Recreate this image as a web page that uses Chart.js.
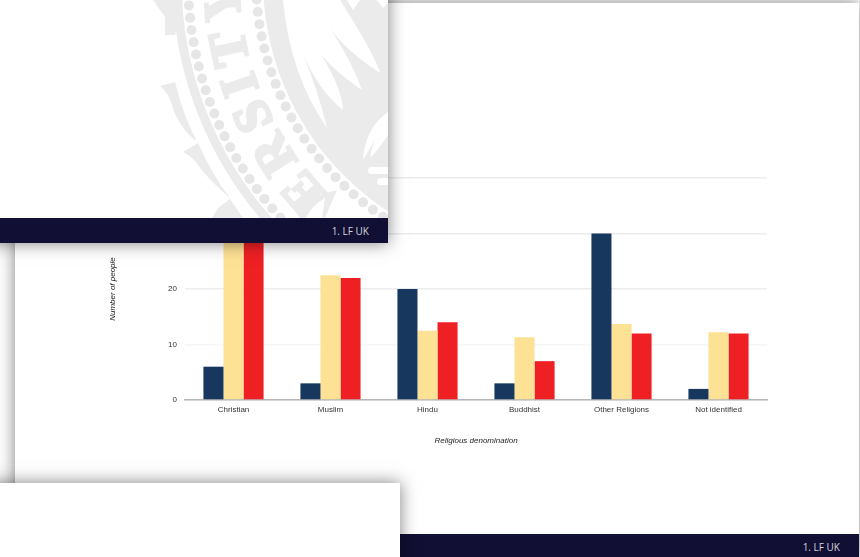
<!DOCTYPE html>
<html>
<head>
<meta charset="utf-8">
<title>Religious denomination</title>
<script src="https://cdn.jsdelivr.net/npm/chart.js@4"></script>
<style>
    html, body { margin: 0; padding: 0; background: #fff; overflow: hidden; }
    #page { position: relative; width: 860px; height: 557px; overflow: hidden; background: #fff; }
    .slide { position: absolute; background: #fff; box-shadow: 0 0 16px rgba(0, 0, 0, 0.5); overflow: hidden; }
    #mainSlide { left: 15px; top: 3px; width: 844px; height: 554px; }
    #topSlide { left: -30px; top: -30px; width: 418px; height: 273px; }
    #bottomSlide { left: -30px; top: 483px; width: 430px; height: 120px; }
    .footer {
        position: absolute; left: 0; right: 0; background: #110f33; color: #d5d5dc;
        font: 10px "Open Sans", sans-serif; text-align: right; box-sizing: border-box;
    }
    #mainSlide .footer { top: 531px; height: 23px; line-height: 27px; padding-right: 19px; }
    #topSlide .footer { top: 248px; height: 25px; line-height: 26px; padding-right: 19px; }
    #crest { position: absolute; left: 30px; top: 30px; }
    #chartCanvas { position: absolute; left: 0; top: 0; filter: blur(0.45px); }
</style>
</head>
<body>
<div id="page">
    <div class="slide" id="mainSlide">
        <canvas id="chartCanvas" width="844" height="531"></canvas>
        <div class="footer">1. LF UK</div>
    </div>
    <div class="slide" id="topSlide">
        <svg id="crest" width="388" height="218" viewBox="0 0 388 218" xmlns="http://www.w3.org/2000/svg">
            <defs>
                <path id="letterArc" d="M327,193 A302,302 0 0 1 243,-72" fill="none"/>
            </defs>
            <g fill="#ebebeb">
                <circle cx="540" cy="-20" r="277"/>
                <circle cx="540" cy="-20" r="363" fill="none" stroke="#ebebeb" stroke-width="9"/>
                <!-- leaves outside the ring -->
                <path d="M153,0 L165,17 L165,35 L175,35 L183,0 Z"/>
                <path d="M160,86 L175,82 Q183,115 197,142 Q177,125 172,105 Q168,92 160,86 Z"/>
                <path d="M183,152 L198,143 Q212,175 230,198 Q207,178 198,165 Q192,156 183,152 Z"/>
                <path d="M218,208 L230,199 L243,218 L212,218 Z"/>
                <path d="M290,203 L337,190 L325,218 L300,218 Z"/>
                <text font-family="'Liberation Serif', serif" font-weight="bold" font-size="52" letter-spacing="8" stroke="#ebebeb" stroke-width="3">
                    <textPath href="#letterArc">ERSITY</textPath>
                </text>
            </g>
            <g id="dots" fill="#e6e6e6"></g>
            <g fill="#fff">
                <!-- main wing -->
                <path d="M283,0 Q290,75 327,128 Q318,90 302,52 Q318,90 343,110 Q342,85 313,42 Q325,65 362,90 Q352,62 330,28 Q345,50 380,73 Q375,55 340,0 Z"/>
                <path d="M347,0 L353,10 L360,0 Z"/>
                <path d="M377,0 L383,8 L388,3 L388,0 Z"/>
                <path d="M363,160 Q365,128 388,112 L388,135 Q378,150 370,158 Q372,145 376,138 Q370,148 363,160 Z"/>
                <rect x="368" y="167" width="24" height="7" rx="3.5"/>
                <rect x="377" y="178" width="16" height="7" rx="3.5"/>
                <path d="M306,218 Q312,205 325,198 L322,218 Z"/>
            </g>
        </svg>
        <div class="footer">1. LF UK</div>
    </div>
    <div class="slide" id="bottomSlide"></div>
</div>
<script>
// Values (the Christian bars are partly hidden by the overlapping slide)
const categories = ['Christian', 'Muslim', 'Hindu', 'Buddhist', 'Other Religions', 'Not identified'];
const navySeries = [6, 3, 20, 3, 30, 2];
const yellowSeries = [33, 22.5, 12.5, 11.3, 13.7, 12.2];
const redSeries = [33, 22, 14, 7, 12, 12];
const yTicks = [0, 10, 20, 30, 40];

const chartColors = {
    navy: '#17375e',
    yellow: '#fde194',
    red: '#ee2024',
    text: '#333333',
    grid: '#ececec',
    gridFaint: '#f6f6f6',
    axis: '#b5b5b5'
};

// Dots of the crest watermark
function drawCrestDots() {
    const group = document.getElementById('dots');
    const rings = [{ r: 352, gap: 12.4 }, { r: 284, gap: 12.4 }];
    rings.forEach(ring => {
        const step = ring.gap / ring.r;
        for (let a = Math.PI * 0.45; a < Math.PI * 1.05; a += step) {
            const dot = document.createElementNS('http://www.w3.org/2000/svg', 'circle');
            dot.setAttribute('cx', 540 + ring.r * Math.cos(a));
            dot.setAttribute('cy', -20 + ring.r * Math.sin(a));
            dot.setAttribute('r', 5);
            group.appendChild(dot);
        }
    });
}

function makeDataset(values, color) {
    return { data: values, backgroundColor: color, borderWidth: 0 };
}

function initChart() {
    const ctx = document.getElementById('chartCanvas').getContext('2d');
    new Chart(ctx, {
        type: 'bar',
        data: {
            labels: categories,
            datasets: [
                makeDataset(navySeries, chartColors.navy),
                makeDataset(yellowSeries, chartColors.yellow),
                makeDataset(redSeries, chartColors.red)
            ]
        },
        options: {
            responsive: false,
            animation: false,
            layout: { padding: { top: 175, right: 92, left: 0, bottom: 0 } },
            datasets: { bar: { categoryPercentage: 0.62, barPercentage: 1 } },
            plugins: { legend: { display: false }, tooltip: { enabled: false } },
            scales: {
                x: {
                    afterFit: scale => { scale.height = 134; },
                    grid: { display: false, drawTicks: false },
                    border: { color: chartColors.axis, width: 1.5 },
                    ticks: {
                        padding: 5,
                        color: chartColors.text,
                        maxRotation: 0,
                        autoSkip: false,
                        font: { family: "'Liberation Sans', sans-serif", size: 8 }
                    },
                    title: {
                        display: true,
                        text: 'Religious denomination',
                        color: '#222222',
                        padding: { top: 0, bottom: 88 },
                        font: { family: "'Liberation Sans', sans-serif", size: 8, style: 'italic' }
                    }
                },
                y: {
                    min: yTicks[0],
                    max: yTicks[yTicks.length - 1],
                    afterFit: scale => { scale.width = 170; },
                    afterBuildTicks: scale => { scale.ticks = yTicks.map(v => ({ value: v })); },
                    grid: {
                        drawTicks: false,
                        lineWidth: 1.5,
                        color: c => (c.tick && c.tick.value === 10 ? chartColors.gridFaint : chartColors.grid)
                    },
                    border: { display: false },
                    ticks: {
                        padding: 8,
                        color: chartColors.text,
                        font: { family: "'Liberation Sans', sans-serif", size: 8 }
                    },
                    title: {
                        display: true,
                        text: 'Number of people',
                        color: '#222222',
                        padding: { top: 93, bottom: 0 },
                        font: { family: "'Liberation Sans', sans-serif", size: 8, style: 'italic' }
                    }
                }
            }
        }
    });
}

drawCrestDots();
initChart();
</script>
</body>
</html>
